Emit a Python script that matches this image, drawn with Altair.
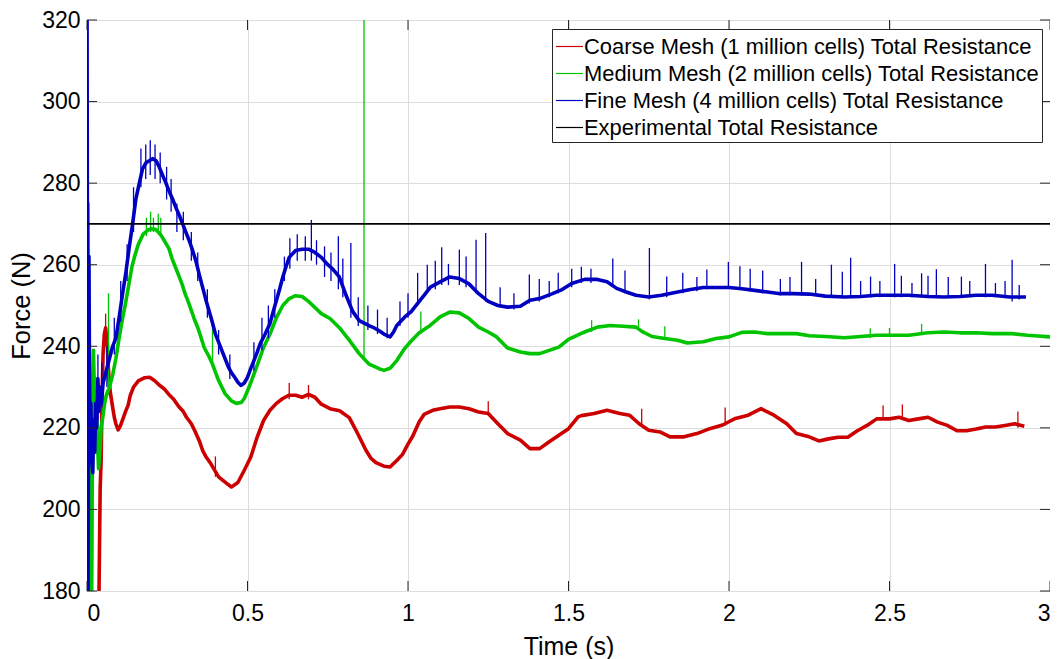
import altair as alt
import pandas as pd

NAMES = [
    "Coarse Mesh (1 million cells) Total Resistance",
    "Medium Mesh (2 million cells) Total Resistance",
    "Fine Mesh (4 million cells) Total Resistance",
    "Experimental Total Resistance",
]
COLORS = ["#cc0000", "#00c400", "#0000c0", "#000000"]

# ---- Coarse mesh (red) ----
coarse_t = [0.036, 0.041, 0.044, 0.047, 0.050, 0.054, 0.058, 0.063, 0.067, 0.072, 0.078, 0.085, 0.09, 0.097,
            0.104, 0.11, 0.12, 0.128, 0.135, 0.145, 0.16, 0.18, 0.195, 0.21, 0.225, 0.24, 0.255, 0.27, 0.285,
            0.30, 0.31, 0.325, 0.335, 0.35, 0.36, 0.37, 0.385, 0.41, 0.435, 0.45, 0.47, 0.49, 0.51, 0.53, 0.55,
            0.57, 0.59, 0.61, 0.63, 0.65, 0.67, 0.69, 0.71, 0.73, 0.757, 0.787, 0.817, 0.838, 0.85, 0.869, 0.885,
            0.9, 0.925, 0.944, 0.965, 0.983, 1.0, 1.015, 1.035, 1.05, 1.077, 1.10, 1.13, 1.16, 1.19, 1.22, 1.25,
            1.28, 1.31, 1.35, 1.38, 1.41, 1.44, 1.47, 1.50, 1.53, 1.54, 1.58, 1.62, 1.66, 1.69, 1.72, 1.75, 1.785,
            1.816, 1.86, 1.90, 1.94, 1.98, 2.02, 2.06, 2.10, 2.14, 2.18, 2.21, 2.25, 2.28, 2.31, 2.34, 2.37, 2.40,
            2.43, 2.46, 2.50, 2.53, 2.56, 2.59, 2.62, 2.65, 2.68, 2.71, 2.74, 2.77, 2.80, 2.83, 2.86, 2.89, 2.92]
coarse_v = [170, 205, 212, 228, 238, 243, 244.5, 241, 234, 229, 226, 222.6, 221, 219.5,
            220.5, 221.8, 224, 225.5, 228, 230, 231.5, 232.3, 232.4, 231.6, 230.5, 229.6, 228.2, 227, 225.3,
            224, 222.6, 221, 219.4, 216.8, 214.5, 213, 211.3, 208, 206.4, 205.5, 206.6, 209.6, 212.8, 217.7, 221.8,
            224.3, 226, 227.2, 228, 228, 227.5, 228.2, 227.5, 225.8, 224.7, 224.2, 222.5, 219.4, 217.5, 214.5, 212.5,
            211.5, 210.6, 210.4, 212, 213.5, 216, 218, 221.5, 223.3, 224.3, 224.7, 225.1, 225.1, 224.7, 223.9, 223.5,
            221, 218.6, 217, 214.9, 214.9, 216.6, 218.2, 219.8, 222.7, 223, 223.5, 224.3, 223.5, 223.1, 221, 219.4, 219,
            217.8, 217.8, 218.6, 219.8, 220.7, 222.3, 223.1, 224.7, 223.1, 221, 218.6, 217.8, 216.8, 217.3, 217.7, 217.7, 219.3,
            220.6, 222.2, 222.2, 222.6, 221.8, 222.2, 222.6, 221.4, 220.6, 219.3, 219.3, 219.7, 220.2, 220.2, 220.6, 221, 220.4]

# ---- Medium mesh (green) ----
medium_t = [0.000, 0.003, 0.006, 0.010, 0.014, 0.018, 0.020, 0.024, 0.028, 0.032, 0.036, 0.040, 0.044, 0.050,
            0.055, 0.06, 0.07, 0.08, 0.09, 0.10, 0.11, 0.12, 0.13, 0.14, 0.15, 0.16, 0.175, 0.19, 0.20, 0.215,
            0.23, 0.24, 0.255, 0.265, 0.275, 0.285, 0.295, 0.305, 0.315, 0.325, 0.335, 0.345, 0.355, 0.365, 0.38,
            0.39, 0.41, 0.43, 0.45, 0.465, 0.48, 0.49, 0.51, 0.53, 0.55, 0.57, 0.59, 0.61, 0.63, 0.65, 0.67, 0.69,
            0.71, 0.73, 0.757, 0.787, 0.817, 0.848, 0.879, 0.91, 0.925, 0.944, 0.965, 0.99, 1.01, 1.035, 1.069,
            1.10, 1.13, 1.16, 1.19, 1.22, 1.25, 1.276, 1.31, 1.35, 1.38, 1.41, 1.44, 1.47, 1.50, 1.535, 1.55, 1.59,
            1.63, 1.67, 1.71, 1.73, 1.76, 1.80, 1.84, 1.87, 1.92, 1.96, 2.00, 2.04, 2.08, 2.12, 2.17, 2.21, 2.25,
            2.30, 2.36, 2.41, 2.46, 2.51, 2.56, 2.62, 2.67, 2.72, 2.77, 2.82, 2.88, 2.93, 3.0]
medium_v = [262, 275, 240, 170, 170, 232, 239, 226, 232, 218, 210, 214, 220, 223,
            226, 228, 230, 233, 237, 242, 246.5, 250.5, 255, 259.5, 262.5, 265, 267.5, 268.5, 268.8, 268.6,
            267.3, 266, 264, 261.5, 259.5, 257.5, 255.5, 253, 251, 248.8, 246.5, 244.6, 242.2, 239.7, 237.5,
            235.8, 231.6, 228.4, 226.6, 226, 226.2, 227.2, 231, 235.3, 239.7, 243, 247, 250, 251.7, 252.4, 252.2, 251,
            249.5, 248, 246.8, 244.5, 241.5, 238.2, 235.6, 234.5, 234.1, 234.6, 236.5, 239.5, 241.3, 243.3, 245.1,
            247.2, 248.4, 248.2, 246.8, 244.7, 243.5, 242.3, 239.6, 238.6, 238.2, 238.2, 239, 239.8, 241.7, 243, 243.5, 244.7,
            245.1, 244.9, 244.7, 243.6, 242.4, 241.9, 241.5, 240.8, 241.1, 241.9, 242.3, 243.4, 243.5, 243.1, 243.1, 243.1, 242.6,
            242.4, 242.1, 242.4, 242.7, 242.7, 242.7, 243.3, 243.5, 243.3, 243.3, 243.1, 243.1, 242.7, 242.3]

# ---- Fine mesh (blue) ----
fine_t = [0.000, 0.003, 0.006, 0.009, 0.012, 0.015, 0.018, 0.021, 0.024, 0.027, 0.030, 0.034, 0.037, 0.040,
          0.045, 0.05, 0.06, 0.07, 0.08, 0.09, 0.10, 0.111, 0.121, 0.131, 0.142, 0.152, 0.163, 0.173, 0.184,
          0.194, 0.205, 0.215, 0.225, 0.235, 0.246, 0.256, 0.267, 0.277, 0.288, 0.298, 0.308, 0.318, 0.329,
          0.339, 0.35, 0.36, 0.37, 0.38, 0.39, 0.40, 0.41, 0.42, 0.43, 0.44, 0.45, 0.46, 0.47, 0.48, 0.49, 0.50,
          0.51, 0.52, 0.53, 0.54, 0.555, 0.57, 0.58, 0.59, 0.60, 0.61, 0.62, 0.63, 0.65, 0.67, 0.69, 0.71, 0.73,
          0.75, 0.765, 0.786, 0.807, 0.828, 0.848, 0.865, 0.88, 0.895, 0.91, 0.925, 0.944, 0.955, 0.965, 0.99,
          1.01, 1.03, 1.05, 1.07, 1.10, 1.13, 1.16, 1.19, 1.22, 1.25, 1.28, 1.31, 1.35, 1.38, 1.41, 1.45, 1.48,
          1.51, 1.55, 1.59, 1.62, 1.65, 1.68, 1.71, 1.75, 1.79, 1.84, 1.88, 1.92, 1.96, 2.0, 2.04, 2.08, 2.12,
          2.16, 2.20, 2.25, 2.30, 2.36, 2.41, 2.46, 2.52, 2.56, 2.62, 2.67, 2.72, 2.77, 2.82, 2.875, 2.925]
fine_v = [330, 170, 262, 214, 226, 212, 209, 222, 214, 226, 220, 232, 224, 230,
          226, 231, 234, 237, 240, 242, 247, 253, 258, 264, 270, 276, 280, 283.5, 285,
          285.5, 286, 285.5, 284, 282, 280, 278, 276, 274, 272, 270, 268, 266, 263.5,
          261, 257.5, 254.5, 251.5, 248.8, 246, 243, 241, 239, 237, 235, 233.5, 232.4, 231.2, 230.4, 231, 232.4,
          234.5, 236.5, 238.5, 240.7, 243, 245.6, 248.5, 251.2, 254, 257, 259.5, 261.8, 263.5, 263.8, 263.8, 263, 261.8,
          260, 259, 257, 252.5, 248.5, 246.3, 245.6, 245, 244.5, 243.8, 243, 242.3, 243.5, 245.1, 247.2,
          248.5, 250.5, 252.5, 254.5, 255.8, 257, 256.6, 255.3, 252.9, 251, 250, 249.6, 249.8, 251.3, 251.7, 252.9, 253.9,
          255.4, 256.4, 256.4, 255.8, 254.2, 253.3, 252.5, 252.1, 252.5, 253.3, 253.9, 254.4, 254.4, 254.4, 254.1, 253.7, 253.3,
          252.9, 252.9, 252.8, 252.3, 252.1, 252.2, 252.5, 252.5, 252.5, 252.2, 252.1, 252.2, 252.5, 252.5, 252.1, 252.1]

# ---- Spikes: (time, low, high) ----
fine_spike_t = [0.034, 0.046, 0.062, 0.085, 0.105, 0.125, 0.145, 0.168, 0.183, 0.197, 0.212, 0.228, 0.248, 0.262,
                0.28, 0.30, 0.325, 0.345, 0.375, 0.41, 0.445, 0.52, 0.545, 0.565, 0.585, 0.615, 0.632, 0.655, 0.68,
                0.699, 0.715, 0.74, 0.76, 0.783, 0.797, 0.822, 0.845, 0.875, 0.905, 0.935, 0.975, 1.0, 1.03, 1.06,
                1.085, 1.105, 1.126, 1.16, 1.181, 1.212, 1.242, 1.287, 1.33, 1.378, 1.409, 1.44, 1.468, 1.51, 1.54,
                1.57, 1.638, 1.676, 1.752, 1.806, 1.856, 1.9, 1.931, 1.998, 2.034, 2.066, 2.105, 2.16, 2.19, 2.226,
                2.27, 2.319, 2.353, 2.379, 2.41, 2.441, 2.47, 2.516, 2.537, 2.57, 2.6, 2.62, 2.646, 2.683, 2.724,
                2.75, 2.799, 2.83, 2.86, 2.882, 2.904]
fine_spike_lo = [222, 225, 230, 238, 246, 256, 268, 279, 281, 282, 281, 280, 276, 273,
                 268, 266, 261, 256, 247, 238, 232, 234, 239, 242, 247, 256, 259, 261, 261,
                 261, 260, 257, 256, 254, 252, 247, 245, 244, 243, 242, 245, 247, 250, 253,
                 254, 255, 255, 255, 254.5, 253, 251, 249.5, 249, 250.5, 251, 252, 253, 254.5, 255.5,
                 255.5, 254.5, 253, 251.5, 252, 253, 253.5, 254, 254, 254, 253.5, 253, 252.5, 252.5, 252.5,
                 252.5, 252, 252, 252, 252, 252, 252, 252, 252, 252, 252, 252, 252, 252, 252,
                 252, 252, 252, 252, 251, 251.5]
fine_spike_hi = [238, 236, 240, 247, 256, 265, 279, 288.5, 289.5, 290.5, 289.5, 287.5, 284, 281,
                 275, 273, 268, 263, 254, 244, 238, 241, 247, 250, 254, 262, 266.5, 267.5, 267,
                 271, 266, 264.5, 263, 267, 261.5, 265.3, 252, 250, 249, 247, 251, 253, 258, 260,
                 261, 264.3, 260.2, 263.7, 262, 266.1, 267.8, 254.5, 253, 257.6, 256.5, 256, 258, 259, 259.5,
                 259, 261.5, 258.6, 264.1, 257.1, 258, 257, 258.8, 260.7, 259.6, 259, 258.6, 256.5, 257, 260.7,
                 256.5, 260, 258.3, 261.7, 256, 257.1, 256, 260.2, 257.3, 255.5, 257.9, 257.3, 258.9, 257, 257.1,
                 256, 260.2, 255.5, 256, 261.2, 255]

medium_spike_t = [0.067, 0.185, 0.198, 0.207, 0.222, 0.23, 0.391, 0.863, 1.04, 1.572, 1.718, 1.8, 2.44, 2.5, 2.6]
medium_spike_lo = [228, 267, 268, 268, 268, 267, 236, 236.5, 243, 243.5, 244, 242, 242, 242.5, 243]
medium_spike_hi = [253, 271.5, 273, 271.5, 272.5, 271.5, 246, 330, 248.5, 246.4, 246.6, 244.9, 244.4, 244.5, 245.5]

coarse_spike_t = [0.058, 0.4, 0.63, 0.69, 1.25, 1.728, 1.988, 2.48, 2.54, 2.9]
coarse_spike_lo = [240, 208, 227, 227, 223, 220.5, 220.5, 222, 222.2, 220]
coarse_spike_hi = [248, 213, 231, 230.5, 226.5, 224.7, 225, 225.5, 225.7, 224]

experimental_value = 270

x_ticks = [0, 0.5, 1, 1.5, 2, 2.5, 3]
y_ticks = [180, 200, 220, 240, 260, 280, 300, 320]

W, H = 963, 571
FONT = "Liberation Sans"
TXT = "#262626"

lines = pd.concat([
    pd.DataFrame({"t": coarse_t, "v": coarse_v, "series": NAMES[0]}),
    pd.DataFrame({"t": medium_t, "v": medium_v, "series": NAMES[1]}),
    pd.DataFrame({"t": fine_t, "v": fine_v, "series": NAMES[2]}),
], ignore_index=True)

spikes = pd.concat([
    pd.DataFrame({"t": coarse_spike_t, "lo": coarse_spike_lo, "hi": coarse_spike_hi, "series": NAMES[0]}),
    pd.DataFrame({"t": medium_spike_t, "lo": medium_spike_lo, "hi": medium_spike_hi, "series": NAMES[1]}),
    pd.DataFrame({"t": fine_spike_t, "lo": fine_spike_lo, "hi": fine_spike_hi, "series": NAMES[2]}),
], ignore_index=True)

exp_df = pd.DataFrame({"v": [experimental_value], "series": [NAMES[3]]})

xscale = alt.Scale(domain=[0, 3], nice=False, zero=False)
yscale = alt.Scale(domain=[180, 320], nice=False, zero=False)
cscale = alt.Scale(domain=NAMES, range=COLORS)

x_axis = alt.Axis(values=x_ticks, format="~g", title="Time (s)", grid=True, ticks=False, tickSize=0,
                  domain=False, labelPadding=11, labelFontSize=23, titleFontSize=25,
                  titleFontWeight="normal", titleBaseline="alphabetic", titleX=W / 2, titleY=63)
y_axis = alt.Axis(values=y_ticks, format="d", title="Force (N)", grid=True, ticks=False, tickSize=0,
                  domain=False, labelPadding=7, labelFontSize=23, titleFontSize=25.5,
                  titleFontWeight="normal", titleBaseline="alphabetic", titleX=-58, titleY=H / 2)

legend = alt.Legend(title=None, orient="none", legendX=465, legendY=9, symbolType="stroke",
                    symbolSize=729, symbolStrokeWidth=1.2, labelFontSize=21.9, labelFont=FONT,
                    labelColor="#000000", labelOffset=0, rowPadding=1, padding=3,
                    strokeColor="#262626", fillColor="#ffffff", labelLimit=600, offset=0)

X = lambda f: alt.X(f, scale=xscale, axis=x_axis)
Y = lambda f: alt.Y(f, scale=yscale, axis=y_axis)

layers = []
for i, name in enumerate(NAMES[:3]):
    ln = alt.Chart(lines).transform_filter(alt.datum.series == name).mark_line(
        strokeWidth=3.6, clip=True, strokeJoin="round").encode(
        x=X("t:Q"), y=Y("v:Q"),
        color=alt.Color("series:N", scale=cscale, legend=legend),
        order="t:Q",
    )
    sp = alt.Chart(spikes).transform_filter(alt.datum.series == name).mark_rule(
        strokeWidth=1.3, clip=True).encode(
        x=X("t:Q"), y=Y("lo:Q"), y2="hi:Q",
        color=alt.Color("series:N", scale=cscale, legend=legend),
    )
    layers += [ln, sp]

exp_rule = alt.Chart(exp_df).mark_rule(strokeWidth=1.8, clip=True).encode(
    y=Y("v:Q"),
    color=alt.Color("series:N", scale=cscale, legend=legend),
)
layers.append(exp_rule)

xt = pd.DataFrame({"t": x_ticks})
yt = pd.DataFrame({"v": y_ticks})
tick_style = dict(color=TXT, strokeWidth=1)
layers += [
    alt.Chart(xt).mark_rule(**tick_style).encode(x=X("t:Q"), y=alt.value(H), y2=alt.value(H - 10)),
    alt.Chart(xt).mark_rule(**tick_style).encode(x=X("t:Q"), y=alt.value(0), y2=alt.value(10)),
    alt.Chart(yt).mark_rule(**tick_style).encode(y=Y("v:Q"), x=alt.value(0), x2=alt.value(10)),
    alt.Chart(yt).mark_rule(**tick_style).encode(y=Y("v:Q"), x=alt.value(W), x2=alt.value(W - 10)),
]

chart = alt.layer(*layers).properties(
    width=W, height=H,
    autosize=alt.AutoSizeParams(type="none"),
    padding={"left": 79, "top": 12, "right": 0, "bottom": 70},
).configure_view(
    stroke=TXT, strokeWidth=1
).configure_axis(
    gridColor="#e3e3e3", gridWidth=1, labelFont=FONT, titleFont=FONT,
    labelColor=TXT, titleColor=TXT
).configure(background="#ffffff")

chart.save("out.html", embed_options={"renderer": "svg", "actions": False})
